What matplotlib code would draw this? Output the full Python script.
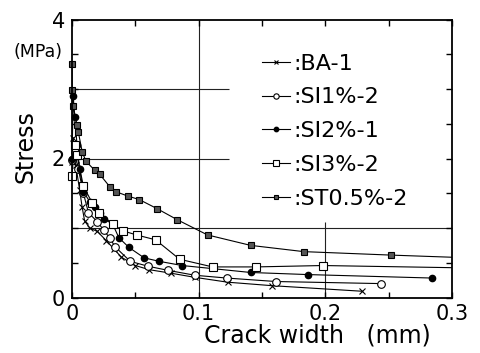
import matplotlib
matplotlib.use("Agg")
import numpy as np
import matplotlib.pyplot as plt
from matplotlib.ticker import MultipleLocator, FuncFormatter

# crack width (mm) / stress (MPa)
ba1_w = [0.0, 0.001, 0.003, 0.006, 0.008, 0.010, 0.014, 0.020, 0.027, 0.033,
         0.039, 0.050, 0.061, 0.078, 0.097, 0.123, 0.158, 0.229]
ba1_s = [1.95, 2.30, 1.90, 1.55, 1.30, 1.10, 1.00, 0.95, 0.82, 0.70,
         0.58, 0.46, 0.40, 0.35, 0.29, 0.22, 0.17, 0.09]

si1_w = [0.0, 0.002, 0.005, 0.009, 0.013, 0.020, 0.025, 0.030, 0.034, 0.046,
         0.060, 0.076, 0.097, 0.122, 0.161, 0.244]
si1_s = [1.98, 2.10, 1.85, 1.50, 1.22, 1.09, 0.97, 0.85, 0.73, 0.52,
         0.45, 0.39, 0.32, 0.28, 0.23, 0.20]

si2_w = [0.0, 0.001, 0.002, 0.004, 0.006, 0.009, 0.014, 0.018, 0.022, 0.025,
         0.032, 0.037, 0.045, 0.057, 0.069, 0.087, 0.141, 0.186, 0.284]
si2_s = [2.00, 2.90, 2.60, 2.20, 1.85, 1.52, 1.38, 1.30, 1.22, 1.13,
         1.06, 0.86, 0.72, 0.57, 0.52, 0.46, 0.36, 0.33, 0.28]

si3_w = [0.0, 0.002, 0.004, 0.009, 0.016, 0.021, 0.032, 0.040, 0.051, 0.066,
         0.085, 0.111, 0.145, 0.198, 0.330]
si3_s = [1.75, 2.20, 2.05, 1.60, 1.36, 1.22, 1.06, 0.96, 0.90, 0.83,
         0.55, 0.44, 0.44, 0.46, 0.42]

st_w = [0.0, 0.0, 0.001, 0.004, 0.005, 0.008, 0.011, 0.018, 0.022, 0.030,
        0.035, 0.044, 0.053, 0.067, 0.083, 0.107, 0.141, 0.183, 0.252, 0.330]
st_s = [3.36, 2.99, 2.75, 2.48, 2.38, 2.10, 1.96, 1.83, 1.77, 1.59,
        1.52, 1.46, 1.41, 1.28, 1.12, 0.90, 0.75, 0.66, 0.61, 0.56]

x_ticklabels = {0.0: "0", 0.1: "0.1", 0.2: "0.2", 0.3: "0.3"}
y_ticklabels = {0.0: "0", 2.0: "2", 4.0: "4"}
XMAX = 0.3

plt.rcParams["font.family"] = ["DejaVu Sans"]

fig = plt.figure(figsize=(4.81, 3.53), dpi=100)
ax = fig.add_axes([72 / 481, 1 - 297.5 / 353, 380 / 481, 278 / 353])

# partial grid (legend area is blank in the original)
g = dict(color="#222222", lw=0.8, zorder=1)
ax.hlines([2, 3], 0, 0.124, **g)
ax.axhline(1, **g)
ax.axvline(0.1, **g)
ax.vlines(0.2, 0, 1.09, **g)


def series(w, s, label, **mk):
    w = np.asarray(w)
    s = np.asarray(s)
    # line clipped to the axes, markers drawn over the spine like the scan
    ax.plot(w, s, color="black", lw=0.8, zorder=3)
    keep = w <= XMAX
    ax.plot(w[keep], s[keep], color="black", ls="none", zorder=4,
            clip_on=False, **mk)
    ax.plot([], [], color="black", lw=0.8, label=label, **mk)


series(ba1_w, ba1_s, ":BA-1", marker="x", ms=4, mew=0.8)
series(si1_w, si1_s, ":SI1%-2", marker="o", ms=5.5, mfc="white", mec="black",
       mew=0.8)
series(si2_w, si2_s, ":SI2%-1", marker="o", ms=4.5, mfc="black", mec="black")
series(si3_w, si3_s, ":SI3%-2", marker="s", ms=5.5, mfc="white", mec="black",
       mew=0.8)
series(st_w, st_s, ":ST0.5%-2", marker="s", ms=5, mfc="#555555", mec="black",
       mew=0.8)

ax.set_xlim(0, XMAX)
ax.set_ylim(0, 4)
ax.xaxis.set_major_locator(MultipleLocator(0.05))
ax.yaxis.set_major_locator(MultipleLocator(0.5))
ax.xaxis.set_major_formatter(FuncFormatter(
    lambda v, p: x_ticklabels.get(round(v, 3), "")))
ax.yaxis.set_major_formatter(FuncFormatter(
    lambda v, p: y_ticklabels.get(round(v, 2), "")))
ax.tick_params(direction="in", length=4, width=1, top=True, right=True,
               labelsize=15, pad=5)
for s in ax.spines.values():
    s.set_linewidth(1.3)
    s.set_zorder(5)

ax.legend(loc="upper left", bbox_to_anchor=(0.5, 0.877), frameon=False,
          fontsize=16, handlelength=1.27, handletextpad=0.15,
          labelspacing=0.62, borderpad=0, borderaxespad=0, markerscale=0.7)

fig.text(25 / 481, 1 - 147 / 353, "Stress", rotation=90, fontsize=17,
         ha="center", va="center")
fig.text(38 / 481, 1 - 52 / 353, "(MPa)", fontsize=12.5,
         ha="center", va="center")
fig.text(317 / 481, 1 - 336 / 353, "Crack width   (mm)", fontsize=17,
         ha="center", va="center")

fig.savefig("out.png", dpi=100)
